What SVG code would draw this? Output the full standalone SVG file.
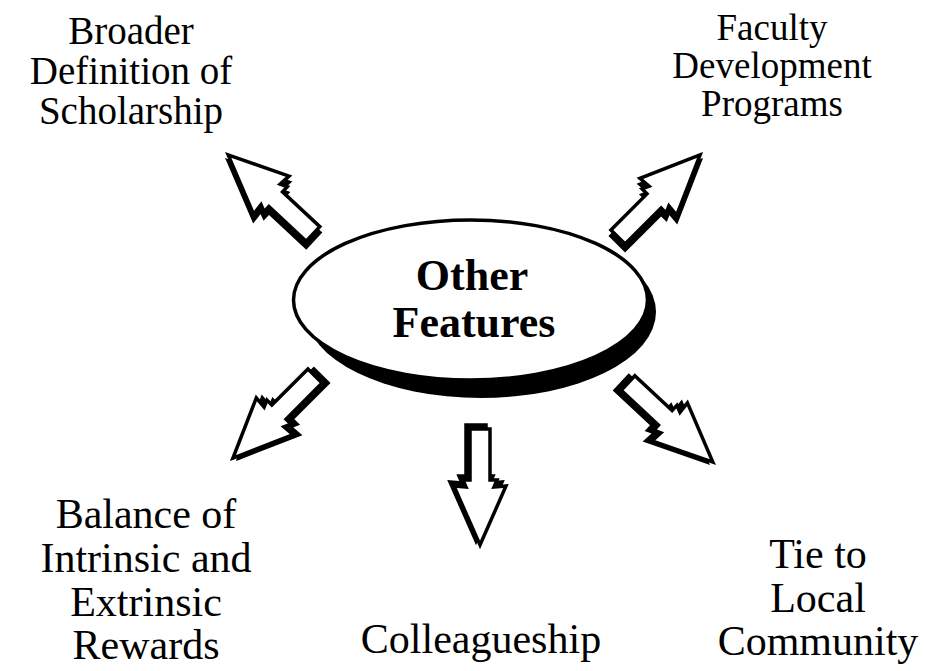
<svg xmlns="http://www.w3.org/2000/svg" xmlns:xlink="http://www.w3.org/1999/xlink" width="925" height="671" viewBox="0 0 925 671">
<style>
text{font-family:"Liberation Serif","DejaVu Serif",serif;fill:#000;text-anchor:middle}
.lbl{font-size:39px}
.lbl3{font-size:37px}
.lbl2{font-size:42px}
.ctr{font-size:44px;font-weight:bold}
.arr{fill:#fff;stroke:#000;stroke-width:3.5;stroke-linejoin:miter}
.sh{fill:#000;stroke:#000;stroke-width:3.5}
</style>
<defs>
<polygon id="ar" points="116,0 57,-26 58,-14 51,-17 51,-10 0,-10 0,10 51,10 51,17 58,14 57,26"/>
</defs>
<rect width="925" height="671" fill="#fff"/>
<g id="connectors">
  <g id="arrow-ul">
    <use href="#ar" class="sh" transform="translate(313,240) rotate(-137)"/>
    <use href="#ar" class="arr" transform="translate(313,234) rotate(-137)"/>
  </g>
  <g id="arrow-ur">
    <use href="#ar" class="sh" transform="translate(618,243) rotate(-45)"/>
    <use href="#ar" class="arr" transform="translate(618,237) rotate(-45)"/>
  </g>
  <g id="arrow-ll">
    <use href="#ar" class="sh" transform="translate(321,376) rotate(135)"/>
    <use href="#ar" class="arr" transform="translate(315,376) rotate(135)"/>
  </g>
  <g id="arrow-d">
    <use href="#ar" class="sh" transform="translate(476,425) rotate(90)"/>
    <use href="#ar" class="arr" transform="translate(480,429) rotate(90)"/>
  </g>
  <g id="arrow-lr">
    <use href="#ar" class="sh" transform="translate(622,383) rotate(43)"/>
    <use href="#ar" class="arr" transform="translate(628,383) rotate(43)"/>
  </g>
</g>
<g id="center">
  <ellipse cx="481" cy="312" rx="175" ry="86" fill="#000"/>
  <ellipse cx="470.5" cy="300" rx="177" ry="80" fill="#fff" stroke="#000" stroke-width="3.5"/>
  <text class="ctr" x="472" y="290">Other</text>
  <text class="ctr" x="474" y="337">Features</text>
</g>
<g id="n-broader">
  <text class="lbl" x="131" y="44">Broader</text>
  <text class="lbl" x="131" y="84">Definition of</text>
  <text class="lbl" x="131" y="124">Scholarship</text>
</g>
<g id="n-faculty">
  <text class="lbl3" x="772" y="40">Faculty</text>
  <text class="lbl3" x="772" y="78">Development</text>
  <text class="lbl3" x="772" y="116">Programs</text>
</g>
<g id="n-balance">
  <text class="lbl2" x="146" y="528">Balance of</text>
  <text class="lbl2" x="146" y="572">Intrinsic and</text>
  <text class="lbl2" x="146" y="616">Extrinsic</text>
  <text class="lbl2" x="146" y="659">Rewards</text>
</g>
<g id="n-colleague">
  <text class="lbl2" x="481" y="653">Colleagueship</text>
</g>
<g id="n-tie">
  <text class="lbl2" x="818" y="568">Tie to</text>
  <text class="lbl2" x="818" y="612">Local</text>
  <text class="lbl2" x="818" y="655">Community</text>
</g>
</svg>
